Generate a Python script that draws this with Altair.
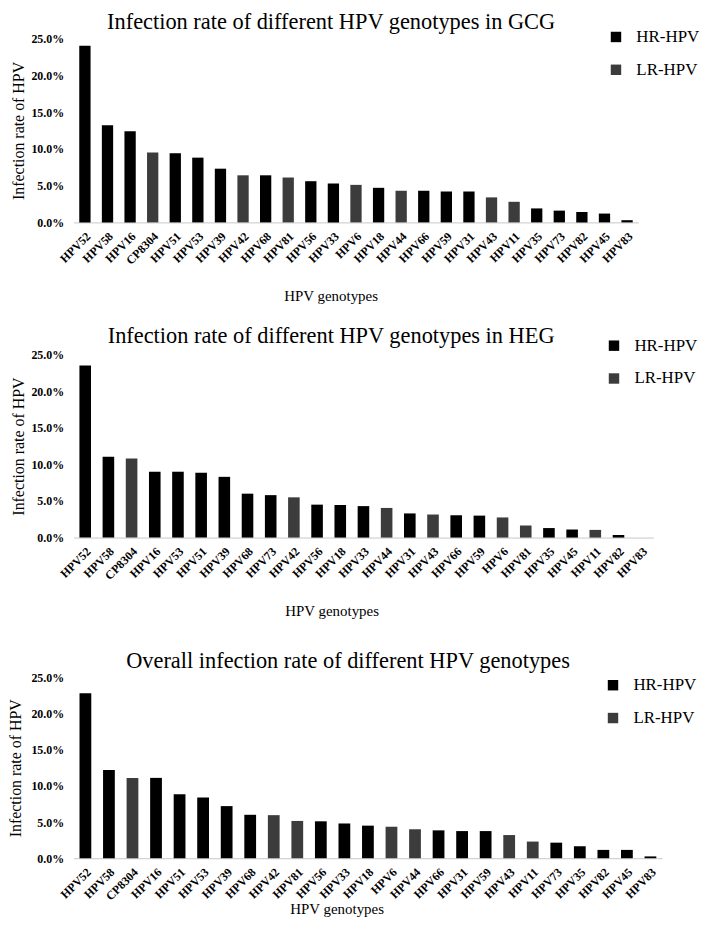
import altair as alt
import pandas as pd

# ---- data (percent) ----
gcg_types = ["HPV52", "HPV58", "HPV16", "CP8304", "HPV51", "HPV53", "HPV39", "HPV42", "HPV68", "HPV81",
             "HPV56", "HPV33", "HPV6", "HPV18", "HPV44", "HPV66", "HPV59", "HPV31", "HPV43", "HPV11",
             "HPV35", "HPV73", "HPV82", "HPV45", "HPV83"]
gcg_rates = [24.0, 13.2, 12.4, 9.5, 9.4, 8.8, 7.3, 6.4, 6.4, 6.1,
             5.6, 5.3, 5.1, 4.7, 4.3, 4.3, 4.2, 4.2, 3.4, 2.8,
             1.9, 1.6, 1.4, 1.2, 0.3]

heg_types = ["HPV52", "HPV58", "CP8304", "HPV16", "HPV53", "HPV51", "HPV39", "HPV68", "HPV73", "HPV42",
             "HPV56", "HPV18", "HPV33", "HPV44", "HPV31", "HPV43", "HPV66", "HPV59", "HPV6", "HPV81",
             "HPV35", "HPV45", "HPV11", "HPV82", "HPV83"]
heg_rates = [23.5, 11.05, 10.8, 9.0, 9.0, 8.85, 8.3, 6.0, 5.8, 5.5,
             4.5, 4.45, 4.3, 4.05, 3.3, 3.15, 3.05, 3.0, 2.75, 1.65,
             1.3, 1.1, 1.05, 0.35, 0.0]

all_types = ["HPV52", "HPV58", "CP8304", "HPV16", "HPV51", "HPV53", "HPV39", "HPV68", "HPV42", "HPV81",
             "HPV56", "HPV33", "HPV18", "HPV6", "HPV44", "HPV66", "HPV31", "HPV59", "HPV43", "HPV11",
             "HPV73", "HPV35", "HPV82", "HPV45", "HPV83"]
all_rates = [22.8, 12.2, 11.1, 11.1, 8.85, 8.4, 7.2, 6.0, 5.95, 5.15,
             5.1, 4.8, 4.5, 4.35, 4.0, 3.85, 3.75, 3.75, 3.2, 2.3,
             2.15, 1.65, 1.15, 1.15, 0.25]

low_risk = ["CP8304", "HPV42", "HPV81", "HPV6", "HPV44", "HPV43", "HPV11"]
risk_groups = ["HR-HPV", "LR-HPV"]
risk_colors = ["#000000", "#3c3c3c"]
y_ticks = [0, 0.05, 0.10, 0.15, 0.20, 0.25]

FONT = "Liberation Serif"


def panel(types, rates, title, width, height, title_dx, title_offset,
          legend_x, legend_y, x_title_x, x_title_pad, y_title_pad):
    df = pd.DataFrame({
        "genotype": types,
        "rate": [r / 100 for r in rates],
        "risk": ["LR-HPV" if t in low_risk else "HR-HPV" for t in types],
    })
    return alt.Chart(df).mark_bar().encode(
        x=alt.X("genotype:N", sort=types,
                scale=alt.Scale(paddingInner=0.5, paddingOuter=0.25),
                axis=alt.Axis(title="HPV genotypes", labelAngle=-45, labelPadding=8,
                              labelFontSize=12, labelFontWeight="bold", labelColor="#000000",
                              labelFont=FONT, ticks=False, domainColor="#c8c8c8",
                              titleFont=FONT, titleFontSize=15, titleFontWeight="normal",
                              titleColor="#000000", titlePadding=x_title_pad,
                              titleX=x_title_x)),
        y=alt.Y("rate:Q", scale=alt.Scale(domain=[0, 0.25], nice=False),
                axis=alt.Axis(title="Infection rate of HPV", format=".1%", values=y_ticks,
                              labelFontSize=12, labelFontWeight="bold", labelColor="#000000",
                              labelFont=FONT, labelPadding=10, ticks=False, domain=False,
                              grid=False, titleFont=FONT, titleFontSize=16,
                              titleFontWeight="normal", titleColor="#000000",
                              titlePadding=y_title_pad)),
        color=alt.Color("risk:N",
                        scale=alt.Scale(domain=risk_groups, range=risk_colors),
                        legend=alt.Legend(title=None, orient="none", legendX=legend_x,
                                          legendY=legend_y, symbolType="square",
                                          symbolSize=110, symbolStrokeWidth=0,
                                          labelFont=FONT, labelFontSize=17,
                                          labelColor="#000000", labelOffset=12,
                                          rowPadding=15, padding=0)),
    ).properties(
        width=width, height=height,
        title=alt.TitleParams(title, font=FONT, fontSize=22.5, fontWeight="normal",
                              color="#000000", anchor="middle", frame="group",
                              dx=title_dx, offset=title_offset),
    )


p1 = panel(gcg_types, gcg_rates, "Infection rate of different HPV genotypes in GCG",
           568, 185, -25, -5, 537, -10, 258.5, 22.5, 4)
p2 = panel(heg_types, heg_rates, "Infection rate of different HPV genotypes in HEG",
           583, 184, -32.5, -10.5, 535, -17.5, 259.5, 22, 4)
p3 = panel(all_types, all_rates, "Overall infection rate of different HPV genotypes",
           592, 182, -20, -1, 534, -0.5, 264.5, 0, 7)

top_pair = alt.vconcat(p1, p2, spacing=21).resolve_scale(
    color="independent").resolve_legend(color="independent")

chart = alt.vconcat(
    top_pair, p3, spacing=30.5,
).resolve_scale(
    color="independent"
).resolve_legend(
    color="independent"
).properties(
    padding=0
).configure(
    font=FONT
).configure_view(
    stroke=None
)

chart.save("out.html", embed_options={"renderer": "svg", "actions": False})
